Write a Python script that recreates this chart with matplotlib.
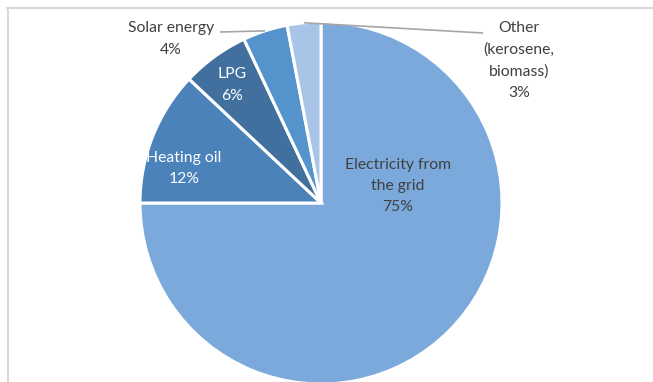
import numpy as np
import matplotlib
matplotlib.use("Agg")
import matplotlib.pyplot as plt
from matplotlib.lines import Line2D

plt.rcParams['font.family'] = ['Lato', 'DejaVu Sans']

# Household energy source shares (%)
sources = ["Electricity from\nthe grid", "Heating oil", "LPG", "Solar energy",
           "Other\n(kerosene,\nbiomass)"]
shares = [75, 12, 6, 4, 3]
colors = ["#7BA9DB", "#4A82B9", "#41709F", "#5593CC", "#A8C4E7"]

W, H = 653, 382
fig = plt.figure(figsize=(W / 100, H / 100), dpi=100)
ax = fig.add_axes([0, 0, 1, 1])

cx, cy, r = 321, H - 203, 181
wedges, _ = ax.pie(shares, colors=colors, startangle=90, counterclock=False,
                   center=(cx, cy), radius=r, frame=True,
                   wedgeprops=dict(edgecolor="white", linewidth=2.2))
ax.set_xlim(0, W)
ax.set_ylim(0, H)
ax.set_aspect("equal")
ax.axis("off")

# chart-area border (top and left edges)
fig.add_artist(Line2D([7.5 / W, 7.5 / W], [0, 1 - 8 / H], transform=fig.transFigure,
                      color="#D9D9D9", lw=1.5))
fig.add_artist(Line2D([7 / W, 1], [1 - 8 / H, 1 - 8 / H], transform=fig.transFigure,
                      color="#D9D9D9", lw=1.5))

def label(i):
    return f"{sources[i]}\n{shares[i]}%"

fs = 11.3
ls = 1.65
# labels inside the slices
ax.text(398, H - 186, label(0), ha="center", va="center", fontsize=fs,
        color="#404040", linespacing=ls)
ax.text(184, H - 168.5, label(1), ha="center", va="center", fontsize=fs,
        color="white", linespacing=ls)
ax.text(232, H - 85, label(2), ha="center", va="center", fontsize=fs,
        color="white", linespacing=ls)

# outside labels with leader lines
def edge_point(w):
    mid = np.deg2rad((w.theta1 + w.theta2) / 2)
    return cx + r * np.cos(mid), cy + r * np.sin(mid)

ax.text(171, H - 39, label(3), ha="center", va="center", fontsize=fs,
        color="#404040", linespacing=ls)
x0, y0 = edge_point(wedges[3])
ax.plot([220, x0], [H - 32, y0], color="#A6A6A6", lw=1.2, solid_capstyle="butt")

ax.text(519, H - 60.5, label(4), ha="center", va="center", fontsize=fs,
        color="#404040", linespacing=ls)
x0, y0 = edge_point(wedges[4])
ax.plot([x0, 483], [y0, H - 33], color="#A6A6A6", lw=1.2, solid_capstyle="butt")

fig.savefig("out.png", dpi=100, facecolor="white")
